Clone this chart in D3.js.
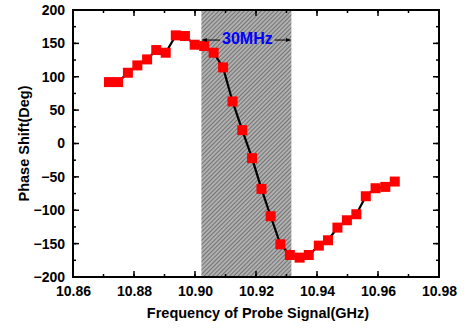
<!DOCTYPE html>
<html>
<head>
<meta charset="utf-8">
<script src="https://cdn.jsdelivr.net/npm/d3@7"></script>
<style>
  html, body { margin: 0; padding: 0; background: #fff; }
  svg text { font-family: "Liberation Sans", Arial, sans-serif; font-weight: bold; }
</style>
</head>
<body>
<svg id="chart" width="466" height="328"></svg>
<script>
// ---- data ----
const freq = [10.8718, 10.8748, 10.8780, 10.8811, 10.8843, 10.8873, 10.8904, 10.8937, 10.8967, 10.8999,
              10.9030, 10.9061, 10.9092, 10.9123, 10.9155, 10.9187, 10.9218, 10.9248, 10.9280, 10.9311,
              10.9343, 10.9373, 10.9406, 10.9436, 10.9467, 10.9498, 10.9529, 10.9560, 10.9592, 10.9624, 10.9655];
const phase = [92, 92, 106, 117, 126, 140, 136, 162, 161, 148,
               146, 136, 114, 63, 20, -22, -68, -109, -151, -167,
               -171, -167, -153, -145, -126, -115, -106, -79, -67, -65, -57];
const xTicks = [10.86, 10.88, 10.90, 10.92, 10.94, 10.96, 10.98];
const yTicks = [-200, -150, -100, -50, 0, 50, 100, 150, 200];
const band = [10.9021, 10.9316];
const bandLabel = "30MHz";
const xTitle = "Frequency of Probe Signal(GHz)";
const yTitle = "Phase Shift(Deg)";

// ---- layout ----
const svg = d3.select("#chart");
const L = 73, R = 439, T = 10, B = 277;
const x = d3.scaleLinear().domain([10.86, 10.98]).range([L, R]);
const y = d3.scaleLinear().domain([-200, 200]).range([B, T]);

// hatch pattern
const defs = svg.append("defs");
const pat = defs.append("pattern").attr("id", "hatch").attr("patternUnits", "userSpaceOnUse")
  .attr("width", 3).attr("height", 3).attr("patternTransform", "rotate(45)");
pat.append("rect").attr("width", 3).attr("height", 3).attr("fill", "#b0b0b0");
pat.append("line").attr("x1", 0).attr("y1", 0).attr("x2", 0).attr("y2", 3)
  .attr("stroke", "#404040").attr("stroke-width", 1.1);

// shaded band
svg.append("rect")
  .attr("x", x(band[0])).attr("y", T)
  .attr("width", x(band[1]) - x(band[0])).attr("height", B - T)
  .attr("fill", "url(#hatch)");

// axes with inward ticks
const minorX = d3.range(10.86, 10.9801, 0.01);
const minorY = d3.range(-200, 201, 25);
function drawTicks(g, vals, len, orient) {
  vals.forEach(v => {
    if (orient === "bottom") g.append("line").attr("x1", x(v)).attr("x2", x(v)).attr("y1", B).attr("y2", B - len);
    if (orient === "top") g.append("line").attr("x1", x(v)).attr("x2", x(v)).attr("y1", T).attr("y2", T + len);
    if (orient === "left") g.append("line").attr("y1", y(v)).attr("y2", y(v)).attr("x1", L).attr("x2", L + len);
    if (orient === "right") g.append("line").attr("y1", y(v)).attr("y2", y(v)).attr("x1", R).attr("x2", R - len);
  });
}
const tg = svg.append("g").attr("stroke", "#000").attr("stroke-width", 1.5);
["bottom", "top"].forEach(o => { drawTicks(tg, minorX, 3, o); drawTicks(tg, xTicks, 6, o); });
["left", "right"].forEach(o => { drawTicks(tg, minorY, 3, o); drawTicks(tg, yTicks, 6, o); });

svg.append("rect").attr("x", L).attr("y", T).attr("width", R - L).attr("height", B - T)
  .attr("fill", "none").attr("stroke", "#000").attr("stroke-width", 2);

// tick labels via d3 axes (ticks hidden)
const xAxis = svg.append("g").attr("transform", `translate(0,${B})`)
  .call(d3.axisBottom(x).tickValues(xTicks).tickFormat(d3.format(".2f")).tickSize(0).tickPadding(9));
const yAxis = svg.append("g").attr("transform", `translate(${L},0)`)
  .call(d3.axisLeft(y).tickValues(yTicks).tickFormat(d3.format("d")).tickSize(0).tickPadding(8));
[xAxis, yAxis].forEach(a => {
  a.select(".domain").remove();
  a.selectAll("text").attr("font-size", 14).attr("fill", "#000")
    .style("font-family", "'Liberation Sans', Arial, sans-serif").style("font-weight", "bold");
});

// titles
svg.append("text").attr("x", (L + R) / 2 + 2).attr("y", 318).attr("text-anchor", "middle")
  .attr("font-size", 14.5).text(xTitle);
svg.append("text").attr("transform", `translate(25,${(T + B) / 2}) rotate(-90)`)
  .attr("text-anchor", "middle").attr("dominant-baseline", "middle")
  .attr("font-size", 14.5).text(yTitle);

// line + markers
svg.append("path").datum(freq.map((f, i) => [f, phase[i]]))
  .attr("d", d3.line().x(d => x(d[0])).y(d => y(d[1])))
  .attr("fill", "none").attr("stroke", "#000").attr("stroke-width", 2.2);
svg.append("g").selectAll("rect").data(freq.map((f, i) => [f, phase[i]])).join("rect")
  .attr("x", d => x(d[0]) - 5).attr("y", d => y(d[1]) - 5)
  .attr("width", 10).attr("height", 10).attr("fill", "#ff0000");

// annotation
const ay = y(155);
const tx = (x(band[0]) + x(band[1])) / 2 + 1;
const lbl = svg.append("text").attr("x", tx).attr("y", ay).attr("text-anchor", "middle")
  .attr("dominant-baseline", "middle").attr("font-size", 16).attr("fill", "#0000ff").text(bandLabel);
const bb = lbl.node().getBBox();
defs.append("marker").attr("id", "ah").attr("viewBox", "0 0 10 10").attr("refX", 9).attr("refY", 5)
  .attr("markerWidth", 5).attr("markerHeight", 5).attr("orient", "auto")
  .append("path").attr("d", "M0,1 L10,5 L0,9 Z").attr("fill", "#000");
svg.append("line").attr("x1", bb.x - 2).attr("x2", x(band[0]) + 1).attr("y1", ay).attr("y2", ay)
  .attr("stroke", "#000").attr("stroke-width", 1).attr("marker-end", "url(#ah)");
svg.append("line").attr("x1", bb.x + bb.width + 2).attr("x2", x(band[1]) - 1).attr("y1", ay).attr("y2", ay)
  .attr("stroke", "#000").attr("stroke-width", 1).attr("marker-end", "url(#ah)");
</script>
</body>
</html>
